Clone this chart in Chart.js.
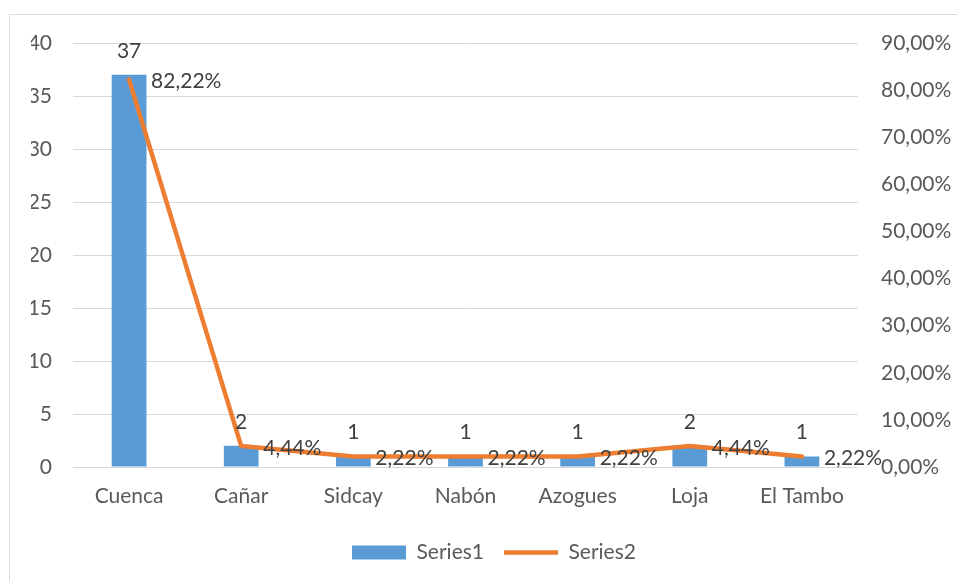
<!DOCTYPE html>
<html>
<head>
<meta charset="utf-8">
<script src="https://cdn.jsdelivr.net/npm/chart.js@4.4.0/dist/chart.umd.min.js"></script>
<style>
  body { margin: 0; background: #fff; }
  .wrap { position: relative; width: 957px; height: 581px; overflow: hidden; }
  .frame { position: absolute; left: 9px; top: 14px; width: 980px; height: 600px; border: 1px solid #d9d9d9; }
  canvas { position: absolute; left: 0; top: 0; }
</style>
</head>
<body>
<div class="wrap">
  <div class="frame"></div>
  <canvas id="chart" width="957" height="581"></canvas>
</div>
<script>
const categories = ["Cuenca", "Cañar", "Sidcay", "Nabón", "Azogues", "Loja", "El Tambo"];
const series1 = [37, 2, 1, 1, 1, 2, 1];
const series2 = [82.22, 4.44, 2.22, 2.22, 2.22, 4.44, 2.22];
const leftTicks = { min: 0, max: 40, step: 5 };
const rightTicks = { min: 0, max: 90, step: 10 };

const FONT = "Lato, 'Open Sans', sans-serif";

function pct(v) {
  return v.toFixed(2).replace(".", ",") + "%";
}

// etiquetas de datos
const labelPlugin = {
  id: "dataLabels",
  afterDatasetsDraw(chart) {
    const ctx = chart.ctx;
    ctx.save();
    ctx.font = "21px " + FONT;
    ctx.fillStyle = "#404040";
    ctx.textBaseline = "middle";

    const bars = chart.getDatasetMeta(0).data;
    ctx.textAlign = "center";
    bars.forEach((bar, i) => {
      ctx.fillText(String(series1[i]), bar.x, bar.y - 24);
    });

    const pts = chart.getDatasetMeta(1).data;
    ctx.textAlign = "left";
    pts.forEach((p, i) => {
      ctx.fillText(pct(series2[i]), p.x + 22, p.y + 2);
    });
    ctx.restore();
  },
};

const ctx = document.getElementById("chart").getContext("2d");
new Chart(ctx, {
  type: "bar",
  data: {
    labels: categories,
    datasets: [
      {
        label: "Series1",
        data: series1,
        backgroundColor: "#5B9BD5",
        borderWidth: 0,
        yAxisID: "y",
        categoryPercentage: 1,
        barPercentage: 0.31,
        pointStyle: "rect",
        order: 1,
      },
      {
        type: "line",
        label: "Series2",
        data: series2,
        borderColor: "#ED7D31",
        backgroundColor: "#ED7D31",
        borderWidth: 4.5,
        borderCapStyle: "round",
        borderJoinStyle: "round",
        pointRadius: 0,
        pointStyle: "line",
        tension: 0,
        yAxisID: "y1",
        order: 0,
      },
    ],
  },
  options: {
    responsive: false,
    animation: false,
    layout: { padding: { top: 43, left: 31, right: 0, bottom: 8 } },
    plugins: {
      tooltip: { enabled: false },
      legend: {
        position: "bottom",
        labels: {
          usePointStyle: true,
          pointStyleWidth: 54,
          boxWidth: 54,
          boxHeight: 14,
          padding: 20,
          color: "#595959",
          font: { family: FONT, size: 21 },
          sort: (a, b) => a.datasetIndex - b.datasetIndex,
        },
      },
    },
    scales: {
      x: {
        grid: { display: false, drawTicks: false },
        border: { display: false },
        ticks: {
          color: "#595959",
          font: { family: FONT, size: 21 },
          padding: 17,
          maxRotation: 0,
        },
        afterFit: (s) => { s.height = 55; },
      },
      y: {
        position: "left",
        min: leftTicks.min,
        max: leftTicks.max,
        grid: { color: "#d9d9d9", lineWidth: 1, drawTicks: false },
        border: { display: false },
        ticks: {
          stepSize: leftTicks.step,
          color: "#595959",
          font: { family: FONT, size: 21 },
          padding: 21,
        },
        afterFit: (s) => { s.width = 42; },
      },
      y1: {
        position: "right",
        min: rightTicks.min,
        max: rightTicks.max,
        grid: { display: false, drawTicks: false },
        border: { display: false },
        ticks: {
          stepSize: rightTicks.step,
          color: "#595959",
          font: { family: FONT, size: 21 },
          padding: 23,
          callback: (v) => pct(v),
        },
        afterFit: (s) => { s.width = 99; },
      },
    },
  },
  plugins: [labelPlugin],
});
</script>
</body>
</html>
